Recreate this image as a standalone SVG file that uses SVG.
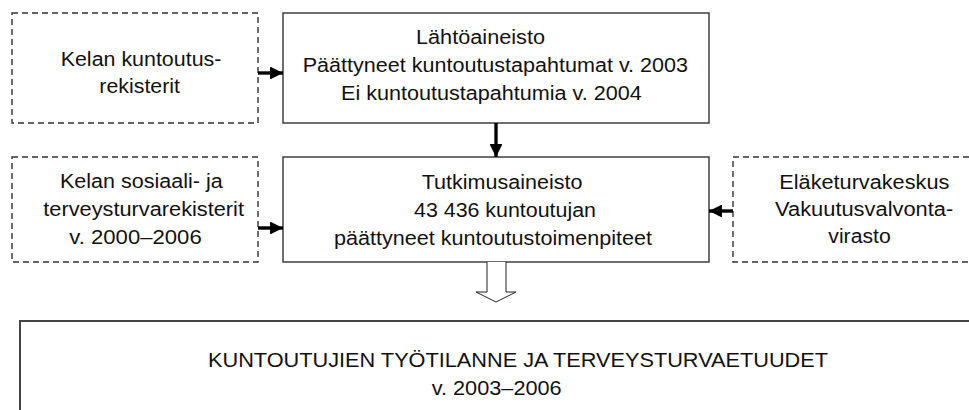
<svg xmlns="http://www.w3.org/2000/svg" width="969" height="410" viewBox="0 0 969 410">
<style>
text{font-family:"Liberation Sans",Arial,sans-serif;font-size:19.5px;fill:#111}
.dash{fill:#fff;stroke:#333;stroke-width:1.4;stroke-dasharray:6 4}
.solid{fill:#fff;stroke:#333;stroke-width:1.4}
.big{fill:#fff;stroke:#444;stroke-width:2}
.conn{stroke:#000;stroke-width:3.4;fill:none}
.hollow{fill:#fff;stroke:#222;stroke-width:1}
</style>
<defs>
<marker id="ah" viewBox="0 0 10 10" refX="10" refY="5" markerWidth="4" markerHeight="3.8" orient="auto" markerUnits="strokeWidth">
<path d="M0,0 L10,5 L0,10 z" fill="#000"/>
</marker>
</defs>
<rect width="969" height="410" fill="#fff"/>
<g id="kelan-kuntoutus">
<rect class="dash" x="12" y="13" width="246" height="110"/>
<text x="60.7" y="66" textLength="160.7" lengthAdjust="spacingAndGlyphs">Kelan kuntoutus-</text>
<text x="99.3" y="93" textLength="80.7" lengthAdjust="spacingAndGlyphs">rekisterit</text>
</g>
<g id="lahtoaineisto">
<rect class="solid" x="283" y="13" width="426" height="110"/>
<text x="416" y="44" textLength="129" lengthAdjust="spacingAndGlyphs">Lähtöaineisto</text>
<text x="302.7" y="72" textLength="385.3" lengthAdjust="spacingAndGlyphs">Päättyneet kuntoutustapahtumat v. 2003</text>
<text x="341" y="100" textLength="300.7" lengthAdjust="spacingAndGlyphs">Ei kuntoutustapahtumia v. 2004</text>
</g>
<g id="kelan-sosiaali">
<rect class="dash" x="12" y="157" width="246" height="105"/>
<text x="60" y="188" textLength="162.7" lengthAdjust="spacingAndGlyphs">Kelan sosiaali- ja</text>
<text x="43.3" y="216" textLength="200.7" lengthAdjust="spacingAndGlyphs">terveysturvarekisterit</text>
<text x="69.3" y="244" textLength="132.4" lengthAdjust="spacingAndGlyphs">v. 2000–2006</text>
</g>
<g id="tutkimusaineisto">
<rect class="solid" x="283" y="157" width="426" height="105"/>
<text x="421.7" y="189" textLength="160.7" lengthAdjust="spacingAndGlyphs">Tutkimusaineisto</text>
<text x="414" y="217" textLength="182" lengthAdjust="spacingAndGlyphs">43 436 kuntoutujan</text>
<text x="334" y="245" textLength="318" lengthAdjust="spacingAndGlyphs">päättyneet kuntoutustoimenpiteet</text>
</g>
<g id="elaketurvakeskus">
<rect class="dash" x="733" y="157" width="260" height="105"/>
<text x="779.3" y="189" textLength="170" lengthAdjust="spacingAndGlyphs">Eläketurvakeskus</text>
<text x="775" y="216" textLength="178.3" lengthAdjust="spacingAndGlyphs">Vakuutusvalvonta-</text>
<text x="828.3" y="243" textLength="62.4" lengthAdjust="spacingAndGlyphs">virasto</text>
</g>
<g id="tulos">
<rect class="big" x="20" y="321" width="1000" height="200"/>
<text x="208" y="367" textLength="620" lengthAdjust="spacingAndGlyphs">KUNTOUTUJIEN TYÖTILANNE JA TERVEYSTURVAETUUDET</text>
<text x="431.7" y="395" textLength="130" lengthAdjust="spacingAndGlyphs">v. 2003–2006</text>
</g>
<g id="connectors">
<line class="conn" x1="258" y1="73" x2="283" y2="73" marker-end="url(#ah)"/>
<line class="conn" x1="258" y1="228" x2="283" y2="228" marker-end="url(#ah)"/>
<line class="conn" x1="496" y1="123" x2="496" y2="157" marker-end="url(#ah)"/>
<line class="conn" x1="733" y1="211" x2="709" y2="211" marker-end="url(#ah)"/>
<path class="hollow" d="M487,262 L487,292 L476,292 L496,302 L516,292 L506,292 L506,262"/>
</g>
</svg>
